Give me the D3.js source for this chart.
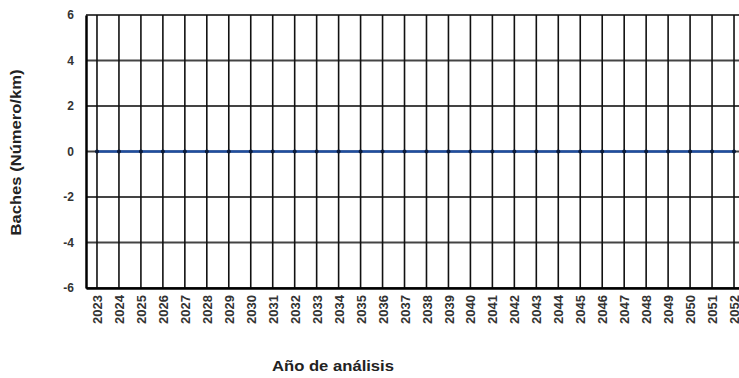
<!DOCTYPE html>
<html>
<head>
<meta charset="utf-8">
<script src="https://cdn.jsdelivr.net/npm/d3@7"></script>
<style>
  html, body { margin: 0; padding: 0; background: #fff; }
  svg { display: block; font-family: Arial, "Liberation Sans", sans-serif; }
</style>
</head>
<body>
<svg id="chart" width="739" height="378"></svg>
<script>
// Pothole count per km, by year of analysis
const years = d3.range(2023, 2053).map(String);
const baches = [0, 0, 0, 0, 0, 0, 0, 0, 0, 0, 0, 0, 0, 0, 0,
                0, 0, 0, 0, 0, 0, 0, 0, 0, 0, 0, 0, 0, 0, 0];
const yTicks = [-6, -4, -2, 0, 2, 4, 6];
const yTitle = "Baches (Número/km)";
const xTitle = "Año de análisis";

const svg = d3.select("#chart");
const margin = { left: 86, top: 15, bottom: 90 };
const plotRight = 745;
const H = 378;

const x = d3.scalePoint().domain(years).range([margin.left, plotRight]).padding(0.5);
const y = d3.scaleLinear().domain([-6, 6]).range([H - margin.bottom, margin.top]);

const g = svg.append("g");

// horizontal grid
g.append("g")
  .selectAll("line")
  .data(yTicks)
  .join("line")
  .attr("x1", margin.left).attr("x2", plotRight)
  .attr("y1", d => y(d)).attr("y2", d => y(d))
  .attr("stroke", "#444").attr("stroke-width", 2);

// vertical grid at each year
g.append("g")
  .selectAll("line")
  .data(years)
  .join("line")
  .attr("x1", d => x(d)).attr("x2", d => x(d))
  .attr("y1", y(6)).attr("y2", y(-6))
  .attr("stroke", "#111").attr("stroke-width", 1.6);

// axes
const yAxis = d3.axisLeft(y).tickValues(yTicks).tickFormat(d => String(d))
  .tickSize(0).tickPadding(12);
g.append("g")
  .attr("transform", `translate(${margin.left},0)`)
  .call(yAxis)
  .call(s => s.select(".domain").attr("stroke", "#000").attr("stroke-width", 2.5))
  .call(s => s.selectAll("text")
    .attr("font-size", 12).attr("font-weight", "bold").attr("fill", "#333")
    .attr("font-family", "Arial, 'Liberation Sans', sans-serif"));

const xAxis = d3.axisBottom(x).tickSize(0).tickPadding(0);
g.append("g")
  .attr("transform", `translate(0,${y(-6)})`)
  .call(xAxis)
  .call(s => s.select(".domain").attr("stroke", "#000").attr("stroke-width", 2.5))
  .call(s => s.selectAll("text")
    .attr("transform", "rotate(-90)")
    .attr("text-anchor", "end")
    .attr("x", -7).attr("y", 0).attr("dy", "0.35em")
    .attr("font-size", 13).attr("font-weight", "bold").attr("fill", "#333")
    .attr("font-family", "Arial, 'Liberation Sans', sans-serif"));

// series line and markers
const line = d3.line().x((d, i) => x(years[i])).y(d => y(d));
g.append("path")
  .datum(baches)
  .attr("d", line)
  .attr("fill", "none")
  .attr("stroke", "#1f4ea0")
  .attr("stroke-width", 2.5);

g.append("g")
  .selectAll("circle")
  .data(baches)
  .join("circle")
  .attr("cx", (d, i) => x(years[i]))
  .attr("cy", d => y(d))
  .attr("r", 2)
  .attr("fill", "#0a1a3a");

// axis titles
svg.append("text")
  .attr("transform", `translate(21,${(y(6) + y(-6)) / 2 + 1}) rotate(-90)`)
  .attr("text-anchor", "middle")
  .attr("font-size", 14).attr("font-weight", "bold").attr("fill", "#222")
  .attr("textLength", 166).attr("lengthAdjust", "spacingAndGlyphs")
  .text(yTitle);

svg.append("text")
  .attr("x", 333).attr("y", 371)
  .attr("text-anchor", "middle")
  .attr("font-size", 15).attr("font-weight", "bold").attr("fill", "#222")
  .attr("textLength", 122).attr("lengthAdjust", "spacingAndGlyphs")
  .text(xTitle);
</script>
</body>
</html>
